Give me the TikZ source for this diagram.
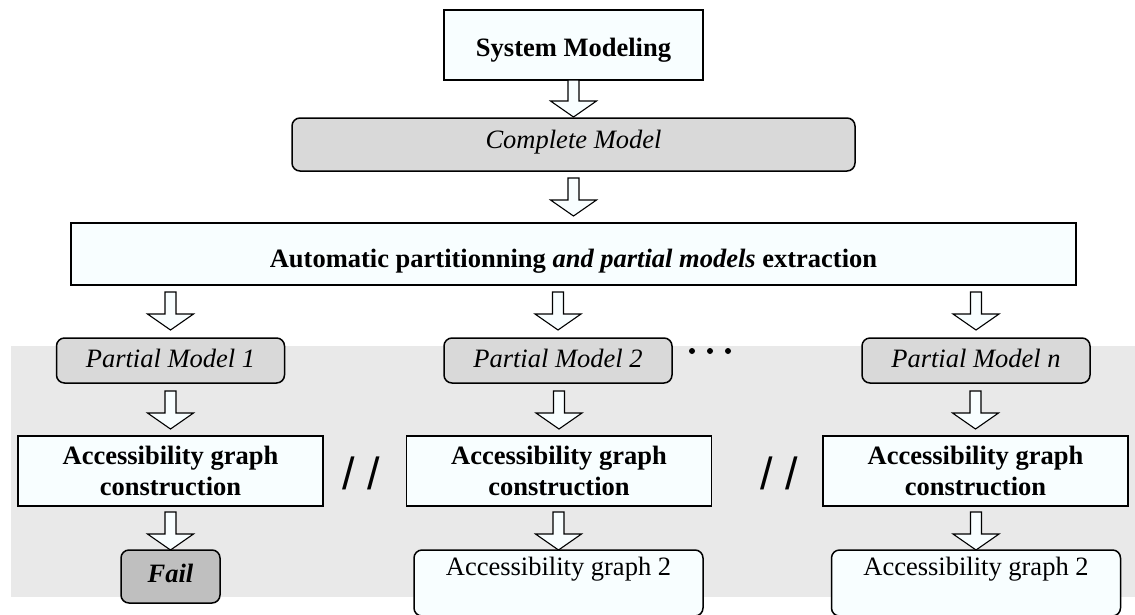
\documentclass[tikz,border=0pt]{standalone}
\usepackage{fontspec}
\setmainfont{Liberation Serif}
\newfontfamily\slashfont{Liberation Sans}
\usetikzlibrary{calc}
\definecolor{boxfill}{RGB}{248,254,255}
\definecolor{midgray}{RGB}{217,217,217}
\definecolor{failgray}{RGB}{191,191,191}
\definecolor{bggray}{RGB}{233,233,233}
\tikzset{
  every node/.style={font=\fontsize{26.5}{30.5}\selectfont, inner sep=0pt, outer sep=0pt},
  sqbox/.style={draw, line width=1.5pt, fill=boxfill, align=center},
  rbox/.style={draw, line width=1.5pt, rounded corners=8pt, align=center},
  barrowsty/.style={draw, line width=1.1pt, fill=boxfill, line join=miter},
  slashsty/.style={font=\slashfont\fontsize{45}{45}\selectfont},
}
% block arrow: source node, target node, gap below source, gap above target
\newcommand\blockarrow[4]{%
  \draw[barrowsty] let \p1=($(#1.south)+(0,#3)$), \p2=($(#2.north)+(0,-#4)$) in
    (\x2-5.5pt,\y1) -- (\x2+5.5pt,\y1) -- (\x2+5.5pt,\y2+16pt) -- (\x2+23pt,\y2+16pt)
    -- (\x2,\y2) -- (\x2-23pt,\y2+16pt) -- (\x2-5.5pt,\y2+16pt) -- cycle;}
\begin{document}
\begin{tikzpicture}[x=1pt,y=-1pt]
\useasboundingbox (0,0) rectangle (1135,614);
\fill[bggray] (11,346) rectangle (1135,597);

\node[sqbox, minimum width=259pt, minimum height=70pt, text height=24pt, text depth=2pt] (sm) at (573.5,45) {\textbf{System Modeling}};
\node[rbox, fill=midgray, minimum width=563pt, minimum height=53pt, text height=13pt, text depth=6pt] (cm) at (573.5,144.5) {\textit{Complete Model}};
\node[sqbox, minimum width=1005pt, minimum height=62pt, text height=28pt, text depth=2pt] (big) at (573.5,254) {\textbf{Automatic partitionning \textit{and partial models} extraction}};

\node[rbox, fill=midgray, minimum width=228pt, minimum height=45pt, text height=18pt, text depth=5pt] (pm1) at (170.5,360.5) {\textit{Partial Model 1}};
\node[rbox, fill=midgray, minimum width=228pt, minimum height=45pt, text height=18pt, text depth=5pt] (pm2) at (558,360.5) {\textit{Partial Model 2}};
\node[rbox, fill=midgray, minimum width=228pt, minimum height=45pt, text height=18pt, text depth=5pt] (pmn) at (976,360.5) {\textit{Partial Model n}};

\node[sqbox, minimum width=305pt, minimum height=70pt] (acc1) at (170.5,471) {\textbf{Accessibility graph}\\\textbf{construction}};
\node[sqbox, minimum width=305pt, minimum height=70pt] (acc2) at (559,471) {\textbf{Accessibility graph}\\\textbf{construction}};
\node[sqbox, minimum width=305pt, minimum height=70pt] (accn) at (975.5,471) {\textbf{Accessibility graph}\\\textbf{construction}};

\node[rbox, fill=failgray, minimum width=99pt, minimum height=53pt, text height=17pt, text depth=6pt] (fail) at (170.5,576.5) {\textbf{\textit{Fail}}};
\node[rbox, fill=boxfill, minimum width=289pt, minimum height=66pt, text height=5pt, text depth=20pt] (ag2) at (558.5,583) {Accessibility graph 2};
\node[rbox, fill=boxfill, minimum width=289pt, minimum height=66pt, text height=5pt, text depth=20pt] (agn) at (976,583) {Accessibility graph 2};

\node[slashsty] (par1) at (361,473) {/ /};
\node[slashsty] (par2) at (779,473) {/ /};

\fill (692,351) circle (3pt) (710,351) circle (3pt) (728,351) circle (3pt);

\blockarrow{sm}{cm}{0}{1}
\blockarrow{cm}{big}{7}{7}
\blockarrow{big}{pm1}{7}{8}
\blockarrow{big}{pm2}{7}{8}
\blockarrow{big}{pmn}{7}{8}
\blockarrow{pm1}{acc1}{8}{7}
\blockarrow{pm2}{acc2}{8}{7}
\blockarrow{pmn}{accn}{8}{7}
\blockarrow{acc1}{fail}{6}{0}
\blockarrow{acc2}{ag2}{6}{0}
\blockarrow{accn}{agn}{6}{0}
\end{tikzpicture}
\end{document}
